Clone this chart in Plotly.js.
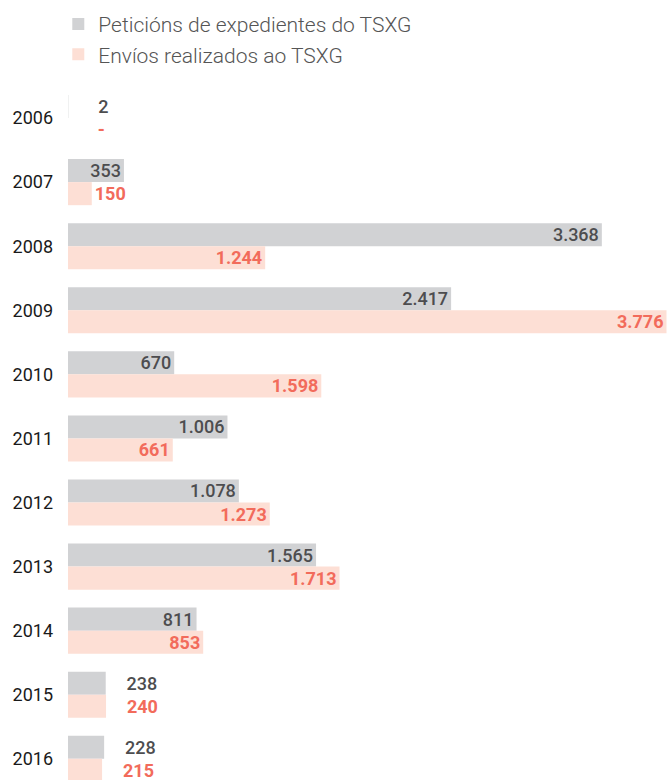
<!DOCTYPE html>
<html>
<head>
<meta charset="utf-8">
<script src="https://cdn.plot.ly/plotly-3.0.1.min.js"></script>
<style>html,body{margin:0;padding:0;background:#fff;}#chart{width:670px;height:780px;}</style>
</head>
<body>
<div id="chart"></div>
<script>
const years = ['2006','2007','2008','2009','2010','2011','2012','2013','2014','2015','2016'];
const peticions = [2, 353, 3368, 2417, 670, 1006, 1078, 1565, 811, 238, 228];
const envios = [0, 150, 1244, 3776, 1598, 661, 1273, 1713, 853, 240, 215];
const seriesNames = ['Peticións de expedientes do TSXG', 'Envíos realizados ao TSXG'];
const outsideP = [true,false,false,false,false,false,false,false,false,true,true];
const outsideE = [true,true,false,false,false,false,false,false,false,true,true];
const padP = [6,0,0,0,0,0,0,0,0,4,4];
const padE = [6,0,0,0,0,0,0,0,0,4,4];

function fmt(v, pad){
  const s = v ? String(v).replace(/\B(?=(\d{3})+(?!\d))/g,'.') : '-';
  return '\u00a0'.repeat(pad||0) + s;
}
const grayText = '#4d4d4f';
const orangeText = '#f26b5b';

const trace1 = {
  type:'bar', orientation:'h', name:seriesNames[0],
  y: years, x: peticions,
  text: peticions.map((v,i)=>fmt(v,padP[i])),
  textposition: outsideP.map(o=>o?'outside':'inside'),
  insidetextanchor:'end',
  constraintext:'none',
  cliponaxis:false,
  textfont:{family:'Roboto', size:18, color:grayText, weight:500},
  marker:{color:'#d1d2d4'},
  hoverinfo:'none'
};
const trace2 = {
  type:'bar', orientation:'h', name:seriesNames[1],
  y: years, x: envios,
  text: envios.map((v,i)=>fmt(v,padE[i])),
  textposition: outsideE.map(o=>o?'outside':'inside'),
  insidetextanchor:'end',
  constraintext:'none',
  cliponaxis:false,
  textfont:{family:'Roboto', size:18, color:orangeText, weight:700},
  marker:{color:'#fddfd5'},
  hoverinfo:'none'
};

const layout = {
  width:670, height:780,
  margin:{l:68, r:0, t:86, b:0, pad:0, autoexpand:false},
  paper_bgcolor:'#fff', plot_bgcolor:'#fff',
  barmode:'group', bargap:0.28, bargroupgap:0,
  font:{family:'Roboto', color:'#222'},
  showlegend:true,
  legend:{
    orientation:'v', xref:'container', yref:'container', x:0.087, y:0.995, xanchor:'left', yanchor:'top',
    font:{family:'Roboto', size:21, color:'#555', weight:300}, traceorder:'normal',
    itemwidth:30, bgcolor:'rgba(0,0,0,0)'
  },
  xaxis:{range:[0,3798], showgrid:false, zeroline:false, showticklabels:false, showline:false, fixedrange:true},
  yaxis:{type:'category', range:[10.33,-0.5], showgrid:false, zeroline:false, showline:false,
    ticks:'', ticklabelstandoff:14, tickfont:{family:'Roboto', size:18, color:'#1a1a1a', weight:400}, fixedrange:true}
};
Plotly.newPlot('chart',[trace1,trace2],layout,{displayModeBar:false, staticPlot:true});
</script>
</body>
</html>
